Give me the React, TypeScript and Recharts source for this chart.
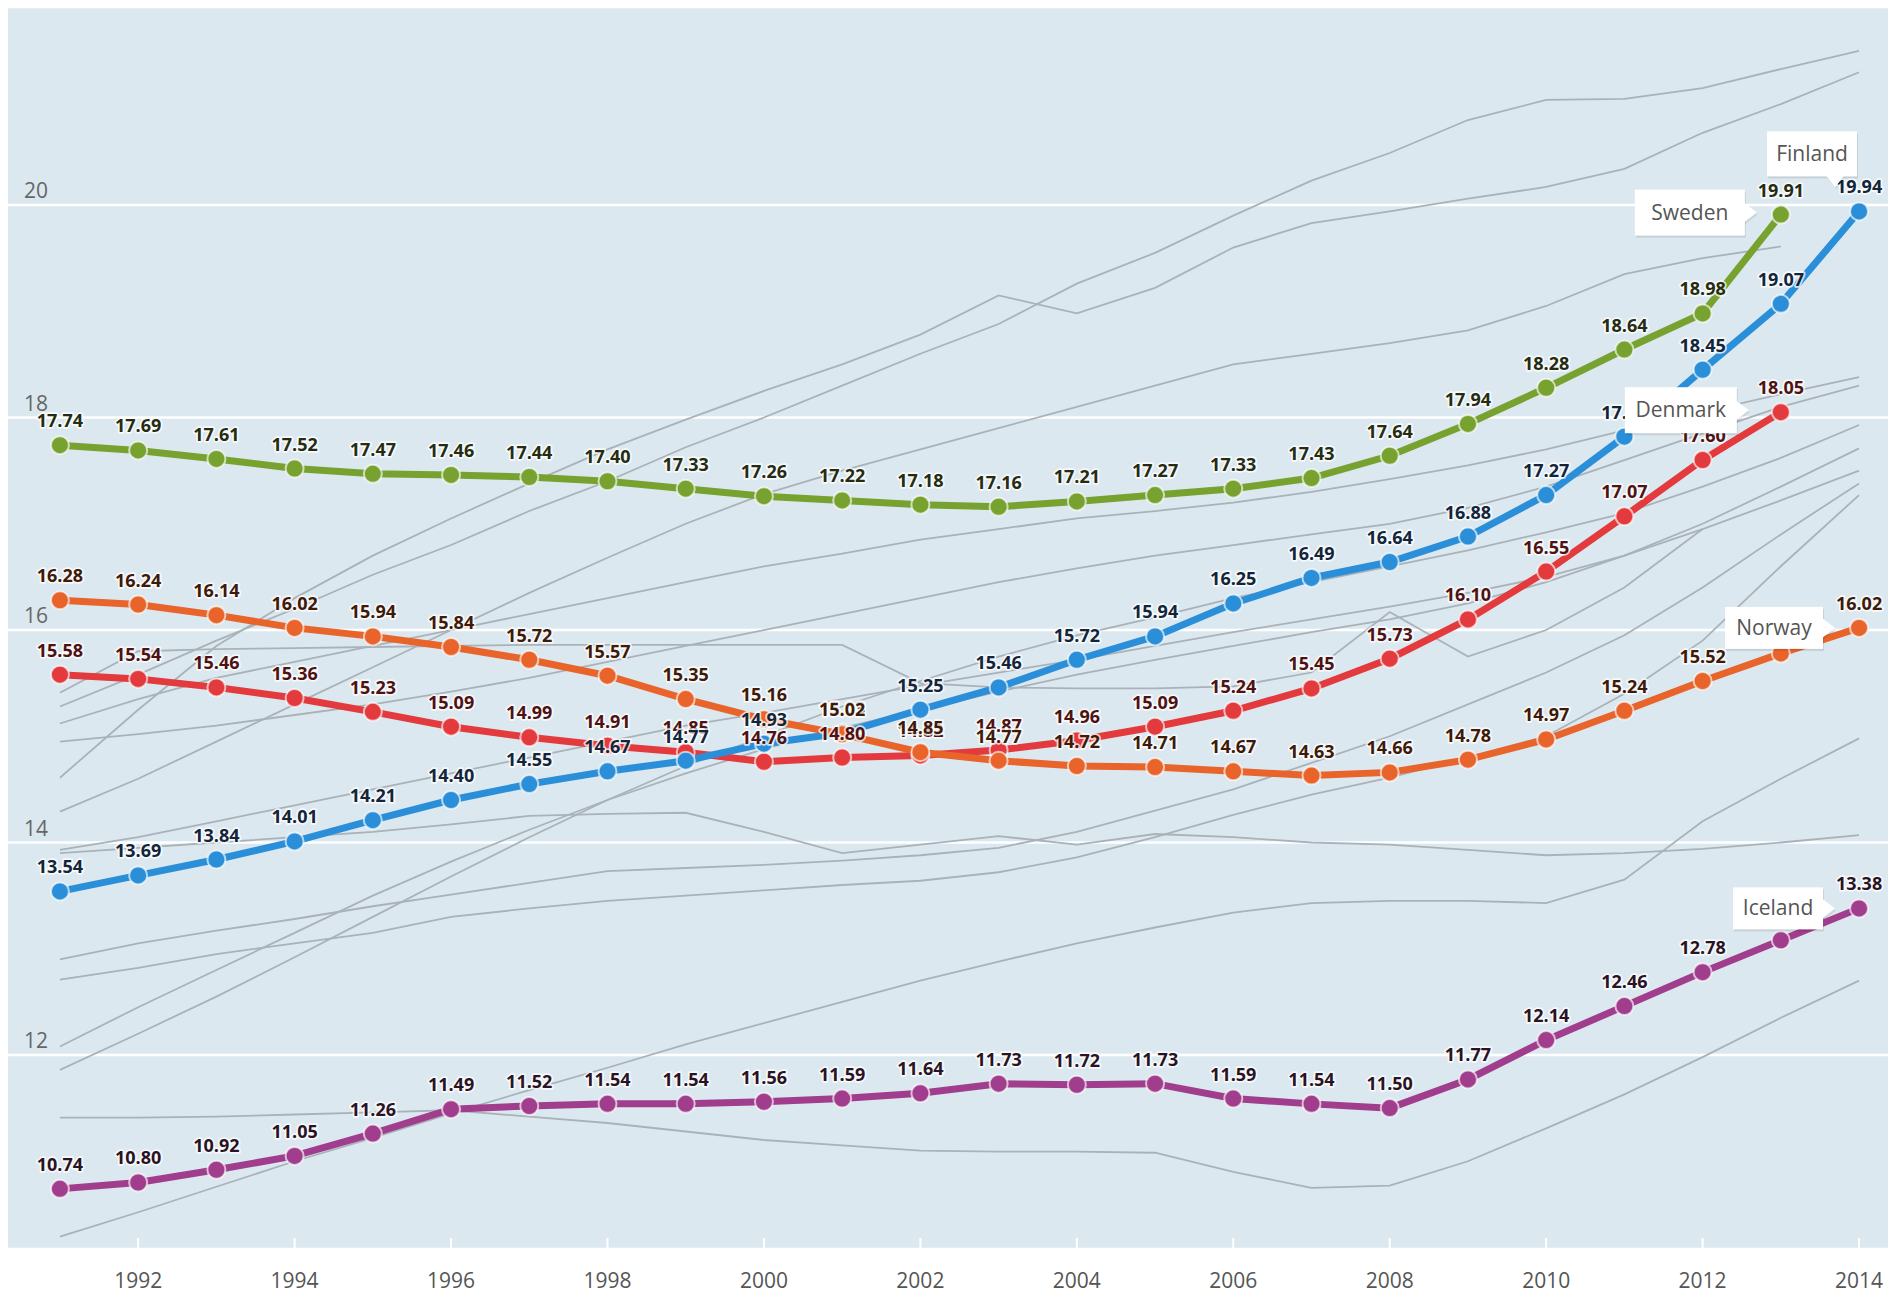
import React from 'react'
import { LineChart, Line, XAxis, YAxis, CartesianGrid, LabelList } from 'recharts'

const years = [1991, 1992, 1993, 1994, 1995, 1996, 1997, 1998, 1999, 2000, 2001, 2002, 2003, 2004, 2005, 2006, 2007, 2008, 2009, 2010, 2011, 2012, 2013, 2014]

const sweden = [17.74, 17.69, 17.61, 17.52, 17.47, 17.46, 17.44, 17.40, 17.33, 17.26, 17.22, 17.18, 17.16, 17.21, 17.27, 17.33, 17.43, 17.64, 17.94, 18.28, 18.64, 18.98, 19.91, null]
const finland = [13.54, 13.69, 13.84, 14.01, 14.21, 14.40, 14.55, 14.67, 14.77, 14.93, 15.03, 15.25, 15.46, 15.72, 15.94, 16.25, 16.49, 16.64, 16.88, 17.27, 17.82, 18.45, 19.07, 19.94]
const denmark = [15.58, 15.54, 15.46, 15.36, 15.23, 15.09, 14.99, 14.91, 14.85, 14.76, 14.80, 14.82, 14.87, 14.96, 15.09, 15.24, 15.45, 15.73, 16.10, 16.55, 17.07, 17.60, 18.05, null]
const norway = [16.28, 16.24, 16.14, 16.02, 15.94, 15.84, 15.72, 15.57, 15.35, 15.16, 15.02, 14.85, 14.77, 14.72, 14.71, 14.67, 14.63, 14.66, 14.78, 14.97, 15.24, 15.52, 15.78, 16.02]
const iceland = [10.74, 10.80, 10.92, 11.05, 11.26, 11.49, 11.52, 11.54, 11.54, 11.56, 11.59, 11.64, 11.73, 11.72, 11.73, 11.59, 11.54, 11.50, 11.77, 12.14, 12.46, 12.78, 13.08, 13.38]

// other countries, drawn as grey context lines
const others: (number | null)[][] = [
  [15.28, 15.58, 15.9, 16.2, 16.52, 16.8, 17.12, 17.4, 17.72, 18.0, 18.3, 18.6, 18.88, 19.26, 19.55, 19.9, 20.23, 20.49, 20.8, 20.99, 21.0, 21.1, 21.28, 21.45],
  [14.61, 15.25, 15.85, 16.3, 16.7, 17.05, 17.38, 17.7, 17.98, 18.25, 18.5, 18.78, 19.15, 18.98, 19.22, 19.6, 19.83, 19.94, 20.06, 20.17, 20.34, 20.68, 20.95, 21.25],
  [14.29, 14.6, 14.95, 15.3, 15.65, 16.0, 16.35, 16.68, 17.0, 17.28, 17.5, 17.7, 17.9, 18.1, 18.3, 18.5, 18.6, 18.7, 18.82, 19.05, 19.35, 19.5, 19.61, null],
  [15.41, 15.8, 15.82, 15.83, 15.84, 15.85, 15.86, 15.86, 15.86, 15.86, 15.86, 15.5, 15.46, 15.45, 15.45, 15.47, 15.6, 16.17, 15.75, 16.0, 16.4, 16.95, null, null],
  [15.12, 15.35, 15.55, 15.7, 15.85, 16.0, 16.15, 16.3, 16.45, 16.6, 16.72, 16.85, 16.95, 17.05, 17.12, 17.2, 17.3, 17.42, 17.55, 17.7, 17.88, 18.05, 18.22, 18.38],
  [14.95, 15.02, 15.1, 15.2, 15.3, 15.42, 15.55, 15.7, 15.85, 16.0, 16.15, 16.3, 16.45, 16.58, 16.7, 16.8, 16.9, 17.0, 17.15, 17.35, 17.6, 17.85, 18.1, 18.3],
  [11.86, 12.2, 12.55, 12.92, 13.3, 13.68, 14.05, 14.4, 14.72, 15.0, 15.28, 15.52, 15.75, 15.95, 16.12, 16.3, 16.45, 16.6, 16.75, 16.92, 17.1, 17.35, 17.62, 17.93],
  [12.08, 12.45, 12.8, 13.15, 13.5, 13.82, 14.12, 14.4, 14.65, 14.88, 15.08, 15.25, 15.42, 15.58, 15.72, 15.85, 15.98, 16.1, 16.25, 16.45, 16.7, 17.0, 17.35, 17.71],
  [12.71, 12.82, 12.95, 13.05, 13.15, 13.3, 13.38, 13.45, 13.5, 13.55, 13.6, 13.64, 13.72, 13.86, 14.05, 14.26, 14.45, 14.61, 14.8, 15.0, 15.4, 15.9, 16.6, 17.27],
  [13.93, 14.05, 14.2, 14.35, 14.5, 14.65, 14.8, 14.95, 15.1, 15.22, 15.35, 15.48, 15.6, 15.72, 15.85, 15.98, 16.1, 16.22, 16.35, 16.5, 16.7, 16.95, 17.22, 17.5],
  [13.9, 13.95, 14.0, 14.05, 14.1, 14.17, 14.25, 14.27, 14.28, 14.1, 13.9, 13.98, 14.06, 13.98, 14.08, 14.05, 14.0, 13.98, 13.93, 13.88, 13.9, 13.94, 14.0, 14.07],
  [12.9, 13.05, 13.17, 13.28, 13.4, 13.51, 13.62, 13.73, 13.76, 13.79, 13.83, 13.88, 13.95, 14.1, 14.3, 14.5, 14.75, 15.0, 15.3, 15.6, 15.95, 16.4, 16.9, 17.38],
  [11.41, 11.41, 11.42, 11.44, 11.46, 11.48, 11.42, 11.36, 11.28, 11.2, 11.15, 11.1, 11.09, 11.09, 11.08, 10.9, 10.75, 10.77, 11.0, 11.31, 11.63, 11.98, 12.35, 12.7],
  [10.29, 10.52, 10.76, 11.0, 11.22, 11.45, 11.67, 11.88, 12.1, 12.3, 12.5, 12.7, 12.88, 13.05, 13.2, 13.34, 13.43, 13.45, 13.45, 13.43, 13.65, 14.2, 14.6, 14.98],
]

const xTicks = [1992, 1994, 1996, 1998, 2000, 2002, 2004, 2006, 2008, 2010, 2012, 2014]
const yTicks = [12, 14, 16, 18, 20]

const data = years.map((year, i) => {
  const row: Record<string, number | null> = {
    year,
    Sweden: sweden[i],
    Finland: finland[i],
    Denmark: denmark[i],
    Norway: norway[i],
    Iceland: iceland[i],
  }
  others.forEach((s, k) => {
    row['g' + k] = s[i]
  })
  return row
})

const FONT = '"Open Sans", "Noto Sans", sans-serif'

// hidden: value labels covered by the name boxes in the original
const series = [
  { key: 'Iceland', color: '#a13d8d', text: '#2a1424', hidden: [22] },
  { key: 'Denmark', color: '#e33a3e', text: '#4f1212', hidden: [] as number[] },
  { key: 'Finland', color: '#2a8fd8', text: '#13253a', hidden: [] as number[] },
  { key: 'Norway', color: '#e8642b', text: '#3f1a08', hidden: [22] },
  { key: 'Sweden', color: '#77a22f', text: '#252c12', hidden: [] as number[] },
]

const callouts = [
  { key: 'Sweden', last: 22, dx: -146, dy: -25, w: 110, h: 46, arrow: 'right' },
  { key: 'Denmark', last: 22, dx: -156, dy: -25, w: 112, h: 46, arrow: 'right' },
  { key: 'Finland', last: 23, dx: -92, dy: -80, w: 90, h: 45, arrow: 'down' },
  { key: 'Norway', last: 23, dx: -134, dy: -21, w: 98, h: 42, arrow: 'right' },
  { key: 'Iceland', last: 23, dx: -126, dy: -21, w: 90, h: 42, arrow: 'right' },
]

const pos = (props: any) => {
  const vb = props.viewBox || {}
  return { x: props.x ?? vb.x, y: props.y ?? vb.y }
}

const valueLabel = (color: string, hidden: number[]) => (props: any) => {
  const { x, y } = pos(props)
  if (props.value == null || x == null || y == null) return null
  if (hidden.includes(props.index)) return null
  return (
    <text
      x={x}
      y={y - 18}
      textAnchor="middle"
      fontFamily={FONT}
      fontWeight={700}
      fontSize={18}
      fill={color}
      stroke="#ffffff"
      strokeOpacity={0.75}
      strokeWidth={3.5}
      strokeLinejoin="round"
      paintOrder="stroke"
    >
      {Number(props.value).toFixed(2)}
    </text>
  )
}

const calloutLabel = (c: typeof callouts[number]) => (props: any) => {
  const { x, y } = pos(props)
  if (props.index !== c.last || props.value == null || x == null) return null
  const bx = x + c.dx
  const by = y + c.dy
  const my = by + c.h / 2
  let arrow = ''
  if (c.arrow === 'right') {
    arrow = `M${bx + c.w - 1},${my - 10} L${bx + c.w + 12},${my} L${bx + c.w - 1},${my + 10} Z`
  } else {
    const ax = bx + c.w - 22
    arrow = `M${ax - 9},${by + c.h - 1} L${ax},${by + c.h + 11} L${ax + 9},${by + c.h - 1} Z`
  }
  return (
    <g>
      <rect x={bx + 1} y={by + 2} width={c.w} height={c.h} fill="#000" opacity={0.1} />
      <path d={arrow} fill="#000" opacity={0.08} transform="translate(1,2)" />
      <rect x={bx} y={by} width={c.w} height={c.h} fill="#ffffff" />
      <path d={arrow} fill="#ffffff" />
      <text x={bx + c.w / 2} y={my + 7} textAnchor="middle" fontFamily={FONT} fontSize={21} fill="#555">
        {c.key}
      </text>
    </g>
  )
}

const XTick = (props: any) => {
  const { x, y, payload } = props
  return (
    <g>
      <line x1={x} x2={x} y1={y - 11} y2={y} stroke="#ffffff" strokeWidth={2} />
      <text x={x} y={y + 39} textAnchor="middle" fontFamily={FONT} fontSize={21} fill="#555">
        {payload.value}
      </text>
    </g>
  )
}

const YTick = (props: any) => {
  const { y, payload } = props
  return (
    <text x={24} y={y - 7} textAnchor="start" fontFamily={FONT} fontSize={21} fill="#666">
      {payload.value}
    </text>
  )
}

export default function App() {
  return (
    <div style={{ position: 'fixed', left: 0, top: 0, width: 1888, height: 1294, background: '#fff' }}>
      <LineChart width={1888} height={1294} data={data} margin={{ top: 7, right: 0, bottom: 0, left: 8 }}>
        <CartesianGrid vertical={false} fill="#dce8ef" stroke="#ffffff" strokeWidth={2.5} />
        <XAxis
          dataKey="year"
          type="number"
          domain={[1990.336, 2014.37]}
          ticks={xTicks}
          allowDataOverflow
          axisLine={false}
          tickLine={false}
          tickSize={0}
          tickMargin={0}
          height={45}
          tick={<XTick />}
          interval={0}
        />
        <YAxis
          type="number"
          domain={[10.174, 21.864]}
          ticks={yTicks}
          allowDataOverflow
          mirror
          width={60}
          axisLine={false}
          tickLine={false}
          tick={<YTick />}
          interval={0}
        />
        {others.map((_, k) => (
          <Line
            key={'g' + k}
            dataKey={'g' + k}
            stroke="#a9b2b9"
            strokeWidth={1.8}
            dot={false}
            activeDot={false}
            type="linear"
            isAnimationActive={false}
          />
        ))}
        {series.map((s) => (
          <Line
            key={s.key}
            dataKey={s.key}
            stroke={s.color}
            strokeWidth={7}
            type="linear"
            dot={{ r: 9, fill: s.color, stroke: '#ffffff', strokeOpacity: 0.65, strokeWidth: 2 }}
            activeDot={false}
            isAnimationActive={false}
          >
            <LabelList dataKey={s.key} content={valueLabel(s.text, s.hidden)} />
          </Line>
        ))}
        {callouts.map((c) => (
          <Line
            key={'c' + c.key}
            dataKey={c.key}
            stroke="none"
            dot={false}
            activeDot={false}
            legendType="none"
            isAnimationActive={false}
          >
            <LabelList dataKey={c.key} content={calloutLabel(c)} />
          </Line>
        ))}
      </LineChart>
    </div>
  )
}
